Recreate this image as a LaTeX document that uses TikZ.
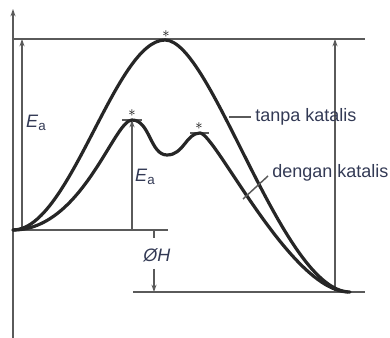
\documentclass[tikz,border=0pt]{standalone}
\usepackage{fontspec}
\setmainfont{Liberation Sans}
\usetikzlibrary{arrows.meta}
\definecolor{axisgray}{HTML}{5A5A5A}
\definecolor{txt}{HTML}{333A55}
\tikzset{
  guide/.style={draw=axisgray, line width=1.1pt},
  guidearrow/.style={guide, -{Stealth[length=5.5pt,width=3.8pt]}},
  curve/.style={draw=black!85, line width=2.4pt, line cap=round, line join=round},
  lbl/.style={text=txt, font=\fontsize{13.5pt}{15pt}\selectfont, inner sep=0pt},
  starmark/.style={text=black, font=\fontsize{11pt}{11pt}\selectfont\bfseries, inner sep=0pt},
}
\begin{document}
\begin{tikzpicture}[x=0.75pt,y=-0.75pt]
\useasboundingbox (0,0) rectangle (390,338);
% coordinates
\coordinate (axb) at (13,338);
\coordinate (axt) at (13,9);
\coordinate (tl) at (13,39);
\coordinate (tr) at (365,39);
\coordinate (r0) at (13,230);
\coordinate (r1) at (168,230);
\coordinate (p0) at (133,292);
\coordinate (p1) at (365,292);
\coordinate (eab) at (22,230);
\coordinate (eat) at (22,39);
\coordinate (erb) at (335,292);
\coordinate (ert) at (335,39);
\coordinate (ecb) at (132,230);
\coordinate (ect) at (132,120);
\coordinate (hk0) at (154,230);
\coordinate (hk1) at (154,238);
\coordinate (ha0) at (154,269);
\coordinate (ha1) at (154,292);
\coordinate (pk1a) at (122,120);
\coordinate (pk1b) at (142,120);
\coordinate (pk2a) at (190,133);
\coordinate (pk2b) at (209,133);
\coordinate (lt0) at (229,117);
\coordinate (lt1) at (251,117);
\coordinate (ld0) at (243,199);
\coordinate (ld1) at (268,176);
% axis and guides
\draw[guidearrow] (axb) -- (axt);
\draw[guide] (tl) -- (tr);
\draw[guide] (r0) -- (r1);
\draw[guide] (p0) -- (p1);
\draw[guidearrow] (eab) -- (eat);
\draw[guidearrow] (erb) -- (ert);
\draw[guidearrow] (ecb) -- (ect);
\draw[guide] (hk0) -- (hk1);
\draw[guidearrow] (ha0) -- (ha1);
\draw[guide] (pk1a) -- (pk1b);
\draw[guide] (pk2a) -- (pk2b);
% curves
\draw[curve] (13,230) .. controls (70,230) and (115,40) .. (165,40)
  .. controls (212,40) and (282,292) .. (350,292);
\draw[curve] (13,230) .. controls (82,230) and (114,120) .. (132,120)
  .. controls (150,120) and (150,155) .. (167,155)
  .. controls (184,155) and (186,133) .. (200,133)
  .. controls (215,133) and (290,290) .. (348,292);
% stars
\node[starmark] (s1) at (166,34) {$\ast$};
\node[starmark] (s2) at (132,113) {$\ast$};
\node[starmark] (s3) at (199,126) {$\ast$};
% leaders
\draw[guide] (lt0) -- (lt1);
\draw[guide] (ld0) -- (ld1);
% labels
\node[lbl, anchor=west] (tanpa) at (255,117) {tanpa katalis};
\node[lbl, anchor=west] (dengan) at (272,173) {dengan katalis};
\node[lbl] (ea1) at (36,123) {\textit{E}\raisebox{-0.35ex}{\fontsize{10pt}{10pt}\selectfont a}};
\node[lbl] (ea2) at (145,177) {\textit{E}\raisebox{-0.35ex}{\fontsize{10pt}{10pt}\selectfont a}};
\node[lbl] (dh) at (157,255) {\textit{ØH}};
\end{tikzpicture}
\end{document}
